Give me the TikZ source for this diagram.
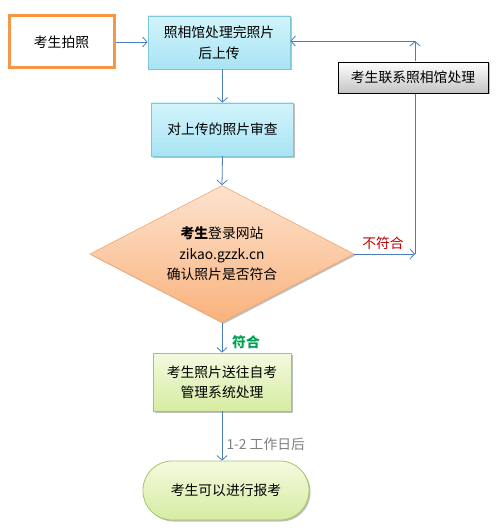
\documentclass[tikz,border=0pt]{standalone}
\usepackage{fontspec}
\setmainfont{Noto Sans CJK SC}
\usetikzlibrary{shapes.geometric,arrows.meta,shadows}
\definecolor{lineblue}{HTML}{4A7EBB}
\definecolor{boxorange}{HTML}{F79646}
\definecolor{cyantop}{HTML}{D2F4FB}
\definecolor{cyanbot}{HTML}{A8E4F4}
\definecolor{cyanborder}{HTML}{7FC6DA}
\definecolor{ortop}{HTML}{FDE3CF}
\definecolor{orbot}{HTML}{F9B27C}
\definecolor{orborder}{HTML}{F3A66B}
\definecolor{grtop}{HTML}{F3FADF}
\definecolor{grbot}{HTML}{D6ECA2}
\definecolor{grborder}{HTML}{A6C46A}
\definecolor{gytop}{HTML}{FFFFFF}
\definecolor{gybot}{HTML}{C4C4C4}
\definecolor{okgreen}{HTML}{00A050}
\definecolor{nored}{HTML}{C00000}
\definecolor{labgray}{HTML}{7F7F7F}
\begin{document}
\begin{tikzpicture}[x=1pt,y=-1pt,
  font=\fontsize{13.8}{20.5}\selectfont,
  conn/.style={draw=lineblue, line width=0.8pt, -{Straight Barb[length=4.5pt,width=10pt]}},
  sh/.style={drop shadow={shadow xshift=1.5pt, shadow yshift=-1.5pt, opacity=0.25, fill=black}},
  startbox/.style={draw=boxorange, line width=3pt, fill=white, minimum width=105pt, minimum height=52pt, align=center},
  cyanbox/.style={sh, draw=cyanborder, line width=0.8pt, top color=cyantop, bottom color=cyanbot, minimum width=142pt, minimum height=53pt, align=center, inner sep=2pt},
  decision/.style={sh, diamond, aspect=1.93, draw=orborder, line width=0.6pt, top color=ortop, bottom color=orbot, minimum width=264pt, minimum height=137pt, inner sep=0pt, align=center},
  greenbox/.style={sh, draw=grborder, line width=0.8pt, top color=grtop, bottom color=grbot, minimum width=138pt, minimum height=58pt, align=center, inner sep=2pt},
  endbox/.style={sh, draw=grborder, line width=0.8pt, top color=grtop, bottom color=grbot, minimum width=166pt, minimum height=59pt, rounded corners=29pt, align=center},
  graybox/.style={sh, draw=black, line width=0.8pt, top color=gytop, bottom color=gybot, minimum width=150pt, minimum height=31pt, align=center},
]
\useasboundingbox (0,0) rectangle (497,532);

\node[startbox] (b0) at (61.5,42) {考生拍照};
\node[cyanbox] (b1) at (219,42.5) {照相馆处理完照片\\后上传};
\node[cyanbox] (b2) at (222.5,129.5) {对上传的照片审查};
\node[decision] (d) at (222,254) {\textbf{考生}登录网站\\zikao.gzzk.cn\\确认照片是否符合};
\node[greenbox] (b3) at (222,382) {考生照片送往自考\\管理系统处理};
\node[endbox] (e) at (226,490.5) {考生可以进行报考};

\coordinate (c1) at (415,254);
\coordinate (c2) at (415,41);

\draw[conn] (b0.east) -- (b0.east -| b1.west);
\draw[conn] (b2.north |- b1.south) -- (b2.north);
\draw[conn] (b2.south) -- (d.north);
\draw[conn] (d.south) -- (b3.north);
\draw[conn] (b3.south) -- (b3.south |- e.north);
\draw[conn] (d.east) -- (c1);
\draw[conn] (c1) -- (c2);
\draw[conn] (c2) -- (c2 -| b1.east);

\node[graybox] (g) at (413,77.5) {考生联系照相馆处理};

\node[text=okgreen, font=\fontsize{13.8}{16}\selectfont\bfseries] (lok) at (246,342) {符合};
\node[text=nored] (lno) at (383,243) {不符合};
\node[text=labgray, anchor=west] (ltime) at (223,444) {1-2 工作日后};
\end{tikzpicture}
\end{document}
